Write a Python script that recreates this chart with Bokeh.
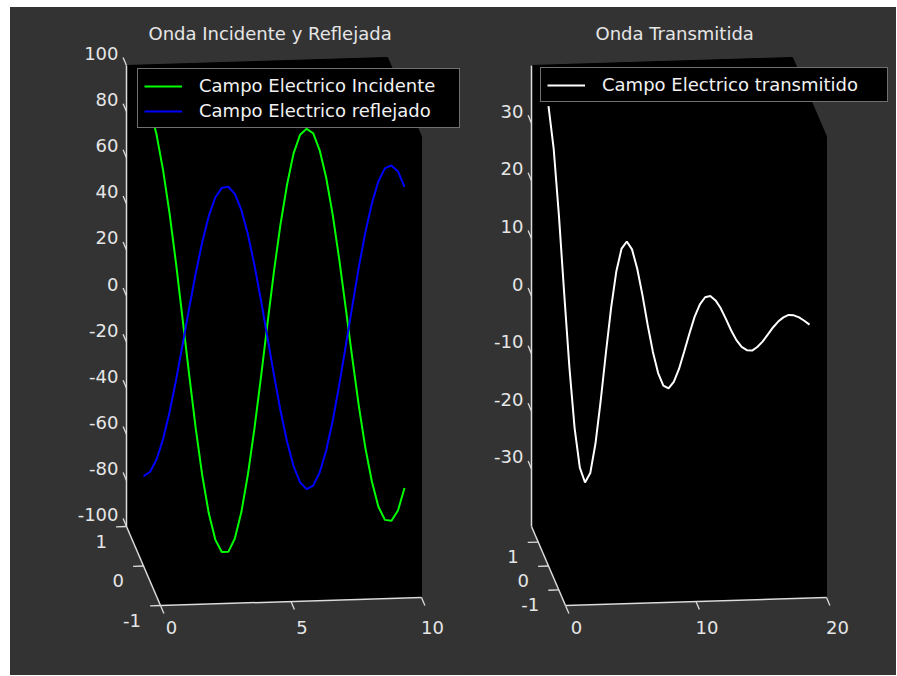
from bokeh.plotting import figure
from bokeh.layouts import row, column
from bokeh.models import Range1d, LinearAxis, FixedTicker, Legend, Spacer, PrintfTickFormatter
from bokeh.core.properties import value
from bokeh.embed import file_html
from bokeh.resources import INLINE

# ---------------- data ----------------
x_incidente = [0.0, 0.25, 0.5, 0.75, 1.0, 1.25, 1.5, 1.75, 2.0, 2.25, 2.5, 2.75, 3.0, 3.25,
               3.5, 3.75, 4.0, 4.25, 4.5, 4.75, 5.0, 5.25, 5.5, 5.75, 6.0, 6.25, 6.5, 6.75,
               7.0, 7.25, 7.5, 7.75, 8.0, 8.25, 8.5, 8.75, 9.0, 9.25, 9.5, 9.75, 10.0]
e_incidente = [102.0, 98.3, 87.0, 71.5, 52.5, 30.5, 6.5, -17.6, -40.9, -61.4, -77.9, -89.5,
               -95.0, -95.0, -89.3, -77.9, -61.7, -41.9, -19.7, 3.5, 26.2, 46.5, 63.5, 77.0,
               85.0, 87.5, 85.5, 78.0, 66.0, 49.8, 30.4, 9.1, -12.6, -33.4, -51.7, -66.4,
               -77.4, -83.2, -83.7, -79.3, -69.6]
e_reflejado = [-61.0, -59.3, -54.0, -45.2, -33.5, -19.6, -4.4, 11.2, 26.2, 39.7, 50.9, 58.9,
               63.0, 63.4, 60.2, 53.1, 42.5, 29.1, 13.8, -2.5, -18.9, -34.5, -48.0, -58.7,
               -65.8, -68.8, -67.4, -61.8, -52.3, -39.5, -24.0, -7.2, 10.0, 26.8, 41.8, 54.2,
               63.8, 69.3, 70.5, 67.8, 61.0]

x_transmitido = [0.0, 0.4, 0.8, 1.2, 1.6, 2.0, 2.4, 2.8, 3.2, 3.6, 4.0, 4.4, 4.8, 5.2, 5.6,
                 6.0, 6.4, 6.8, 7.2, 7.6, 8.0, 8.4, 8.8, 9.2, 9.6, 10.0, 10.4, 10.8, 11.2,
                 11.6, 12.0, 12.4, 12.8, 13.2, 13.6, 14.0, 14.4, 14.8, 15.2, 15.6, 16.0,
                 16.4, 16.8, 17.2, 17.6, 18.0, 18.4, 18.8, 19.2, 19.6, 20.0]
e_transmitido = [39.8, 32.3, 20.7, 7.3, -5.6, -16.2, -23.1, -25.7, -24.1, -19.0, -11.6, -3.3,
                 4.5, 10.8, 14.7, 15.9, 14.5, 11.1, 6.5, 1.3, -3.4, -7.1, -9.3, -9.8, -8.7,
                 -6.5, -3.5, -0.4, 2.5, 4.6, 5.8, 6.0, 5.2, 3.8, 1.9, -0.1, -1.8, -3.0, -3.6,
                 -3.7, -3.1, -2.2, -1.0, 0.2, 1.2, 1.9, 2.3, 2.2, 1.8, 1.2, 0.5]

left_title = "Onda Incidente y Reflejada"
right_title = "Onda Transmitida"
left_labels = ["Campo Electrico Incidente", "Campo Electrico reflejado"]
right_labels = ["Campo Electrico transmitido"]

left_x_ticks = [0, 5, 10]
left_y_ticks = [-1, 0, 1]
left_z_ticks = [-100, -80, -60, -40, -20, 0, 20, 40, 60, 80, 100]
right_x_ticks = [0, 10, 20]
right_y_ticks = [-1, 0, 1]
right_z_ticks = [-30, -20, -10, 0, 10, 20, 30]

left_lims = ((0, 10), (-1, 1), (-100, 100))
right_lims = ((0, 20), (-1.65, 1.65), (-40, 40))

# ---------------- style / layout (page pixel coordinates) ----------------
BG = "#333333"
FG = "#e6e6e6"
AXC = "#dcdcdc"
FONT = "DejaVu Sans"
FS = "18px"
OX, OY = 10, 7                   # where the grey figure area starts on the page
FIG_H = 668
FT, FB = 48, 608                 # frame top / bottom
XVEC = (261.0, -8.0)             # screen vector of the full x span
DVEC = (34.0, 79.0)              # screen vector back -> front of the depth span
ZVEC = (0.0, -461.0)             # screen vector of the full z span
LEG_PAD, LEG_SPACING, LEG_ROW = 6, 4, 22


def make_panel(fig_left, fig_w, FL, FR, blb, lims, xt, yt, zt, series, labels, colors,
               title, title_start, label_w, leg_left, leg_top):
    (x0, x1), (y0, y1), (z0, z1) = lims

    def proj(x, y, z):
        fx = (x - x0) / (x1 - x0)
        fd = (y1 - y) / (y1 - y0)
        fz = (z - z0) / (z1 - z0)
        return (blb[0] + XVEC[0] * fx + DVEC[0] * fd + ZVEC[0] * fz,
                blb[1] + XVEC[1] * fx + DVEC[1] * fd + ZVEC[1] * fz)

    kx = XVEC[0] / (x1 - x0)
    kz = -ZVEC[1] / (z1 - z0)
    sx0, sy0 = proj(x0, 0.0, z0)

    def to_data(sx, sy):
        return x0 + (sx - sx0) / kx, z0 + (sy0 - sy) / kz

    def P(x, y, z):
        return to_data(*proj(x, y, z))

    xa, xb = x0 + (FL - sx0) / kx, x0 + (FR - sx0) / kx
    za, zb = z0 + (sy0 - FB) / kz, z0 + (sy0 - FT) / kz

    p = figure(width=fig_w, height=FIG_H,
               x_range=Range1d(xa, xb), y_range=Range1d(za, zb),
               x_axis_type=None, y_axis_type=None,
               toolbar_location=None, output_backend="svg",
               min_border_left=FL - fig_left, min_border_right=fig_left + fig_w - FR,
               min_border_top=FT - OY, min_border_bottom=OY + FIG_H - FB,
               background_fill_color=BG, border_fill_color=BG, outline_line_color=None)

    p.title.text = title
    p.title.align = "left"
    p.title.offset = title_start - FL
    p.title.text_font = FONT
    p.title.text_font_size = FS
    p.title.text_font_style = "normal"
    p.title.text_color = FG

    # ranges used only to place the tick labels the way the 3-D view does
    lx, ly = proj(x0, y0, z0)
    cx = to_data(lx + 11, ly)[0] - x0
    zx, zy = proj(x0, y1, z0)
    cz = to_data(zx, zy - 12)[1] - z0
    p.extra_x_ranges = {"xl": Range1d(xa - cx, xb - cx)}
    p.extra_y_ranges = {"zl": Range1d(za - cz, zb - cz)}

    def style(ax, standoff):
        ax.axis_line_color = None
        ax.major_tick_line_color = None
        ax.minor_tick_line_color = None
        ax.major_tick_in = 0
        ax.major_tick_out = 0
        ax.major_label_standoff = standoff
        ax.major_label_text_font = FONT
        ax.major_label_text_font_size = FS
        ax.major_label_text_color = FG
        ax.formatter = PrintfTickFormatter(format="%d")

    axx = LinearAxis(x_range_name="xl", ticker=FixedTicker(ticks=xt))
    style(axx, 12)
    p.add_layout(axx, "below")
    axz = LinearAxis(y_range_name="zl", ticker=FixedTicker(ticks=zt))
    style(axz, 7)
    p.add_layout(axz, "left")

    # black back planes of the 3-D box
    corners = [(x0, y1, z1), (x1, y1, z1), (x1, y0, z1), (x1, y0, z0), (x0, y0, z0), (x0, y1, z0)]
    pts = [P(*c) for c in corners]
    p.patch([q[0] for q in pts], [q[1] for q in pts], fill_color="black", line_color="black")

    # box axis lines
    edges = [((x0, y1, z0), (x0, y1, z1)), ((x0, y1, z0), (x0, y0, z0)), ((x0, y0, z0), (x1, y0, z0))]
    a = [P(*e[0]) for e in edges]
    b = [P(*e[1]) for e in edges]
    p.segment([q[0] for q in a], [q[1] for q in a], [q[0] for q in b], [q[1] for q in b],
              line_color=AXC, line_width=1.5, level="overlay")

    # tick marks
    ta, tb = [], []
    for v in zt:
        ta.append(P(x0, y1, v)); tb.append(P(x0, y1 + 0.1 * (y1 - y0), v))
    for v in xt:
        ta.append(P(v, y0, z0)); tb.append(P(v, y0 - 0.1 * (y1 - y0), z0))
    for v in yt:
        ta.append(P(x0, v, z0)); tb.append(P(x0 - 0.04 * (x1 - x0), v, z0))
    p.segment([q[0] for q in ta], [q[1] for q in ta], [q[0] for q in tb], [q[1] for q in tb],
              line_color=AXC, line_width=1.3, level="overlay")

    # depth-axis labels
    dl = [P(x0 - 0.075 * (x1 - x0), v, z0) for v in yt]
    p.text([q[0] for q in dl], [q[1] for q in dl], text=[str(v) for v in yt],
           text_align="right", text_baseline="middle", text_font=value(FONT),
           text_font_size=FS, text_color=FG, y_offset=14, level="overlay")

    # curves (in the y = 0 plane)
    rends = []
    for (xs, zs), color in zip(series, colors):
        q = [P(x, 0.0, z) for x, z in zip(xs, zs)]
        rends.append(p.line([c[0] for c in q], [c[1] for c in q], line_color=color, line_width=2))

    n = len(labels)
    leg_h = 2 * LEG_PAD + n * LEG_ROW + (n - 1) * LEG_SPACING
    leg = Legend(items=[(lab, [r]) for lab, r in zip(labels, rends)],
                 location=(leg_left - FL, FB - leg_top - leg_h),
                 padding=LEG_PAD, spacing=LEG_SPACING,
                 glyph_width=38, glyph_height=18, label_height=18, label_width=label_w,
                 label_standoff=17, label_text_font=FONT, label_text_font_size=FS,
                 label_text_color="#f2f2f2", border_line_color="#e0e0e0", border_line_width=1,
                 background_fill_color="black", background_fill_alpha=1.0)
    p.add_layout(leg)
    return p


p1 = make_panel(OX, 460, 125, 462, (126.0, 526.0), left_lims, left_x_ticks, left_y_ticks,
                left_z_ticks, [(x_incidente, e_incidente), (x_incidente, e_reflejado)],
                left_labels, ["#00ff00", "#0000ff"], left_title, 148, 254, 137, 68)
p2 = make_panel(470, 426, 530, 892, (531.0, 526.0), right_lims, right_x_ticks, right_y_ticks,
                right_z_ticks, [(x_transmitido, e_transmitido)],
                right_labels, ["#ffffff"], right_title, 595, 279, 540, 68)

panels = row(p1, p2, styles={"background-color": BG})
layout = column(Spacer(height=OY), row(Spacer(width=OX), panels))
open("out.html", "w").write(file_html(layout, INLINE, title="Ondas"))
